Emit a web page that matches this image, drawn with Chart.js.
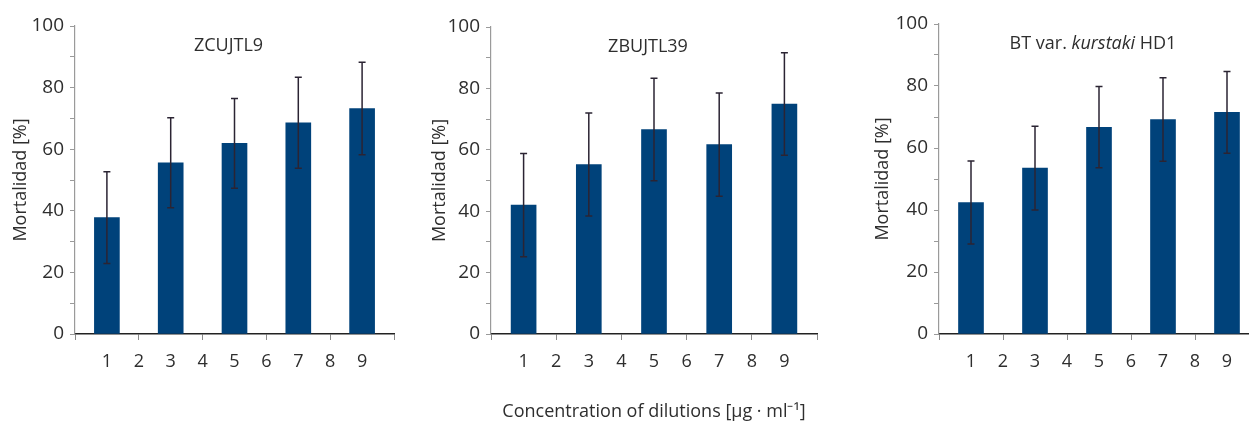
<!DOCTYPE html>
<html>
<head>
<meta charset="utf-8">
<script src="https://cdn.jsdelivr.net/npm/chart.js@4.4.1/dist/chart.umd.min.js"></script>
<style>
  html, body { margin: 0; padding: 0; background: #fff; }
  #wrap { position: relative; width: 1249px; height: 423px; overflow: hidden; }
  canvas { position: absolute; top: 0; }
</style>
</head>
<body>
<div id="wrap">
  <canvas id="c1" width="405" height="423" style="left:0px"></canvas>
  <canvas id="c2" width="413" height="423" style="left:416px"></canvas>
  <canvas id="c3" width="406" height="423" style="left:864px"></canvas>
</div>
<script>
// dilution positions (bars sit on the odd ones)
const dilutions = [1, 3, 5, 7, 9];
const tickValues = [1, 2, 3, 4, 5, 6, 7, 8, 9];

// mortality means and error (+/-) per strain
const zcujtl9 = [37.8, 55.6, 61.9, 68.6, 73.2];
const zcujtl9Err = [14.9, 14.6, 14.6, 14.8, 15.0];

const zbujtl39 = [42.0, 55.2, 66.6, 61.7, 74.9];
const zbujtl39Err = [16.8, 16.8, 16.7, 16.8, 16.7];

const btHd1 = [42.4, 53.5, 66.7, 69.2, 71.5];
const btHd1Err = [13.4, 13.5, 13.1, 13.5, 13.2];

const yTitle = 'Mortalidad [%]';
const xTitle = 'Concentration of dilutions [\u00b5g \u00b7 ml\u207b\u00b9]';

const FONT = "'Open Sans', sans-serif";
const TEXT = '#2e2e2e';
const BAR = '#00427a';
const ERR = '#2b2433';

// error bars drawn on top of the bars
const errorBars = {
    id: 'errorBars',
    afterDatasetsDraw(chart, args, opts) {
        const ctx = chart.ctx;
        const meta = chart.getDatasetMeta(0);
        const y = chart.scales.y;
        const vals = chart.data.datasets[0].data;
        ctx.save();
        ctx.strokeStyle = ERR;
        ctx.lineWidth = 1.5;
        meta.data.forEach((bar, i) => {
            const m = vals[i].y, e = opts.err[i];
            const top = y.getPixelForValue(m + e);
            const bot = y.getPixelForValue(m - e);
            ctx.beginPath();
            ctx.moveTo(bar.x, top);
            ctx.lineTo(bar.x, bot);
            ctx.moveTo(bar.x - 3.5, top);
            ctx.lineTo(bar.x + 3.5, top);
            ctx.moveTo(bar.x - 3.5, bot);
            ctx.lineTo(bar.x + 3.5, bot);
            ctx.stroke();
        });
        ctx.restore();
    }
};

// panel title drawn inside the plot area (allows italic pieces)
const innerTitle = {
    id: 'innerTitle',
    afterDraw(chart, args, opts) {
        const ctx = chart.ctx;
        const area = chart.chartArea;
        ctx.save();
        ctx.fillStyle = TEXT;
        ctx.textBaseline = 'middle';
        let total = 0;
        opts.parts.forEach(p => {
            ctx.font = (p.italic ? 'italic ' : '') + '18px ' + FONT;
            total += ctx.measureText(p.text).width;
        });
        let x = (area.left + area.right) / 2 - 6 - total / 2;
        opts.parts.forEach(p => {
            ctx.font = (p.italic ? 'italic ' : '') + '18px ' + FONT;
            ctx.fillText(p.text, x, area.top + 20);
            x += ctx.measureText(p.text).width;
        });
        ctx.restore();
    }
};

function makePanel(id, values, errs, titleParts, top, right, yPad, showX) {
    const ctx = document.getElementById(id).getContext('2d');
    return new Chart(ctx, {
        type: 'bar',
        data: {
            datasets: [{
                data: dilutions.map((d, i) => ({ x: d, y: values[i] })),
                backgroundColor: BAR,
                borderWidth: 0,
                barThickness: 25
            }]
        },
        options: {
            responsive: false,
            animation: false,
            layout: { padding: { top: top, right: right, bottom: 0, left: 0 } },
            plugins: {
                legend: { display: false },
                tooltip: { enabled: false },
                errorBars: { err: errs },
                innerTitle: { parts: titleParts }
            },
            scales: {
                x: {
                    type: 'linear',
                    min: 0,
                    max: 10,
                    offset: false,
                    grid: {
                        offset: false,
                        drawOnChartArea: false,
                        tickLength: 6,
                        color: c => (c.tick && c.tick.value % 2 === 0) ? '#8a8a8a' : 'rgba(0,0,0,0)'
                    },
                    border: { color: '#222222', width: 1.5 },
                    ticks: {
                        stepSize: 1,
                        autoSkip: false,
                        maxRotation: 0,
                        padding: 11,
                        color: TEXT,
                        font: { family: FONT, size: 18 },
                        callback: v => tickValues.includes(v) ? String(v) : ''
                    },
                    title: {
                        display: showX,
                        text: xTitle,
                        color: TEXT,
                        font: { family: FONT, size: 18 },
                        padding: { top: 0, bottom: 0 }
                    },
                    afterFit: s => { s.height = 89; }
                },
                y: {
                    min: 0,
                    max: 100,
                    grid: {
                        drawOnChartArea: false,
                        tickLength: 5,
                        color: '#9a9a9a'
                    },
                    border: { color: '#9a9a9a', width: 1.2 },
                    ticks: {
                        stepSize: 10,
                        padding: 6,
                        color: TEXT,
                        font: { family: FONT, size: 19 },
                        callback: v => v % 20 === 0 ? String(v) : ''
                    },
                    title: {
                        display: true,
                        text: yTitle,
                        color: TEXT,
                        font: { family: FONT, size: 18 },
                        padding: { top: yPad, bottom: 0 }
                    },
                    afterFit: s => { s.width = 75; }
                }
            }
        },
        plugins: [errorBars, innerTitle]
    });
}

makePanel('c1', zcujtl9, zcujtl9Err, [{ text: 'ZCUJTL9' }], 26, 10, 10, false);
makePanel('c2', zbujtl39, zbujtl39Err, [{ text: 'ZBUJTL39' }], 27, 12, 13, true);
makePanel('c3', btHd1, btHd1Err,
    [{ text: 'BT var. ' }, { text: 'kurstaki', italic: true }, { text: ' HD1' }], 24, 0, 8, false);
</script>
</body>
</html>
